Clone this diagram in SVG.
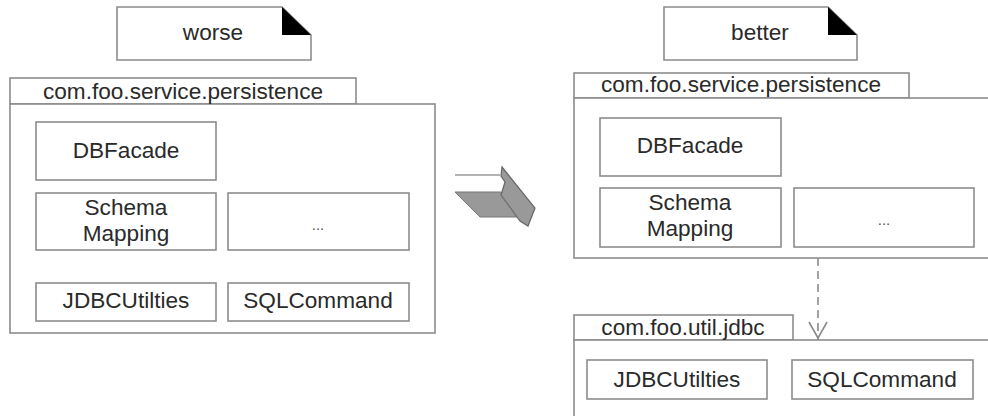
<svg xmlns="http://www.w3.org/2000/svg" width="988" height="416" viewBox="0 0 988 416">
<style>
.box{fill:#fff;stroke:#8c8c8c;stroke-width:1.6}
.t{font-family:"Liberation Sans",Arial,sans-serif;font-size:22.6px;fill:#2a2a2a;text-anchor:middle}
.d{font-family:"Liberation Sans",Arial,sans-serif;font-size:15px;fill:#555;text-anchor:middle}
</style>
<rect width="988" height="416" fill="#fff"/>
<g id="note-worse">
<path class="box" d="M117,7 H282 L311,35 V60 H117 Z"/>
<path d="M282,7 L311,35 H282 Z" fill="#000"/>
<text class="t" x="213" y="40">worse</text>
</g>
<g id="pkg-left">
<rect class="box" x="10" y="78" width="346" height="26"/>
<rect class="box" x="10" y="104" width="425" height="229"/>
<text class="t" x="183" y="99">com.foo.service.persistence</text>
</g>
<g id="left-dbfacade">
<rect class="box" x="36" y="122" width="180" height="58"/>
<text class="t" x="126" y="158">DBFacade</text>
</g>
<g id="left-schema">
<rect class="box" x="36" y="193" width="180" height="57"/>
<text class="t" x="126" y="215">Schema</text>
<text class="t" x="126" y="241">Mapping</text>
</g>
<g id="left-etc">
<rect class="box" x="228" y="193" width="181" height="57"/>
<text class="d" x="318" y="230">...</text>
</g>
<g id="left-jdbc">
<rect class="box" x="36" y="283" width="180" height="38"/>
<text class="t" x="126" y="308">JDBCUtilties</text>
</g>
<g id="left-sql">
<rect class="box" x="228" y="283" width="181" height="38"/>
<text class="t" x="318" y="308">SQLCommand</text>
</g>
<g id="transform-arrow">
<line x1="455" y1="175" x2="500" y2="175" stroke="#9a9a9a" stroke-width="1.6"/>
<polygon points="455,192 501,192 519,217 480,217" fill="#999" stroke="#777" stroke-width="1"/>
<polygon points="502,167 535,208 528,226 520,221 501,195 505,182 501,176" fill="#999" stroke="#666" stroke-width="1.2"/>
<line x1="501" y1="195" x2="520" y2="221" stroke="#777" stroke-width="1"/>
</g>
<g id="note-better">
<path class="box" d="M664,7 H828 L857,35 V60 H664 Z"/>
<path d="M828,7 L857,35 H828 Z" fill="#000"/>
<text class="t" x="760" y="40">better</text>
</g>
<g id="pkg-right">
<rect class="box" x="574" y="73" width="335" height="25"/>
<rect class="box" x="574" y="98" width="430" height="160"/>
<text class="t" x="741" y="92">com.foo.service.persistence</text>
</g>
<g id="right-dbfacade">
<rect class="box" x="600" y="118" width="181" height="58"/>
<text class="t" x="690" y="153">DBFacade</text>
</g>
<g id="right-schema">
<rect class="box" x="600" y="188" width="181" height="59"/>
<text class="t" x="690" y="210">Schema</text>
<text class="t" x="690" y="236">Mapping</text>
</g>
<g id="right-etc">
<rect class="box" x="794" y="188" width="180" height="59"/>
<text class="d" x="884" y="225">...</text>
</g>
<g id="pkg-jdbc">
<rect class="box" x="574" y="315" width="219" height="25"/>
<rect class="box" x="574" y="340" width="430" height="90"/>
<text class="t" x="683" y="335">com.foo.util.jdbc</text>
</g>
<g id="right-jdbc">
<rect class="box" x="587" y="360" width="180" height="39"/>
<text class="t" x="677" y="387">JDBCUtilties</text>
</g>
<g id="right-sql">
<rect class="box" x="792" y="360" width="181" height="39"/>
<text class="t" x="882" y="387">SQLCommand</text>
</g>
<g id="connectors" fill="none" stroke="#8c8c8c" stroke-width="1.6">
<line x1="818" y1="258" x2="818" y2="340" stroke-dasharray="8,5"/>
<polyline points="809,322 818,338 827,322"/>
</g>
</svg>
